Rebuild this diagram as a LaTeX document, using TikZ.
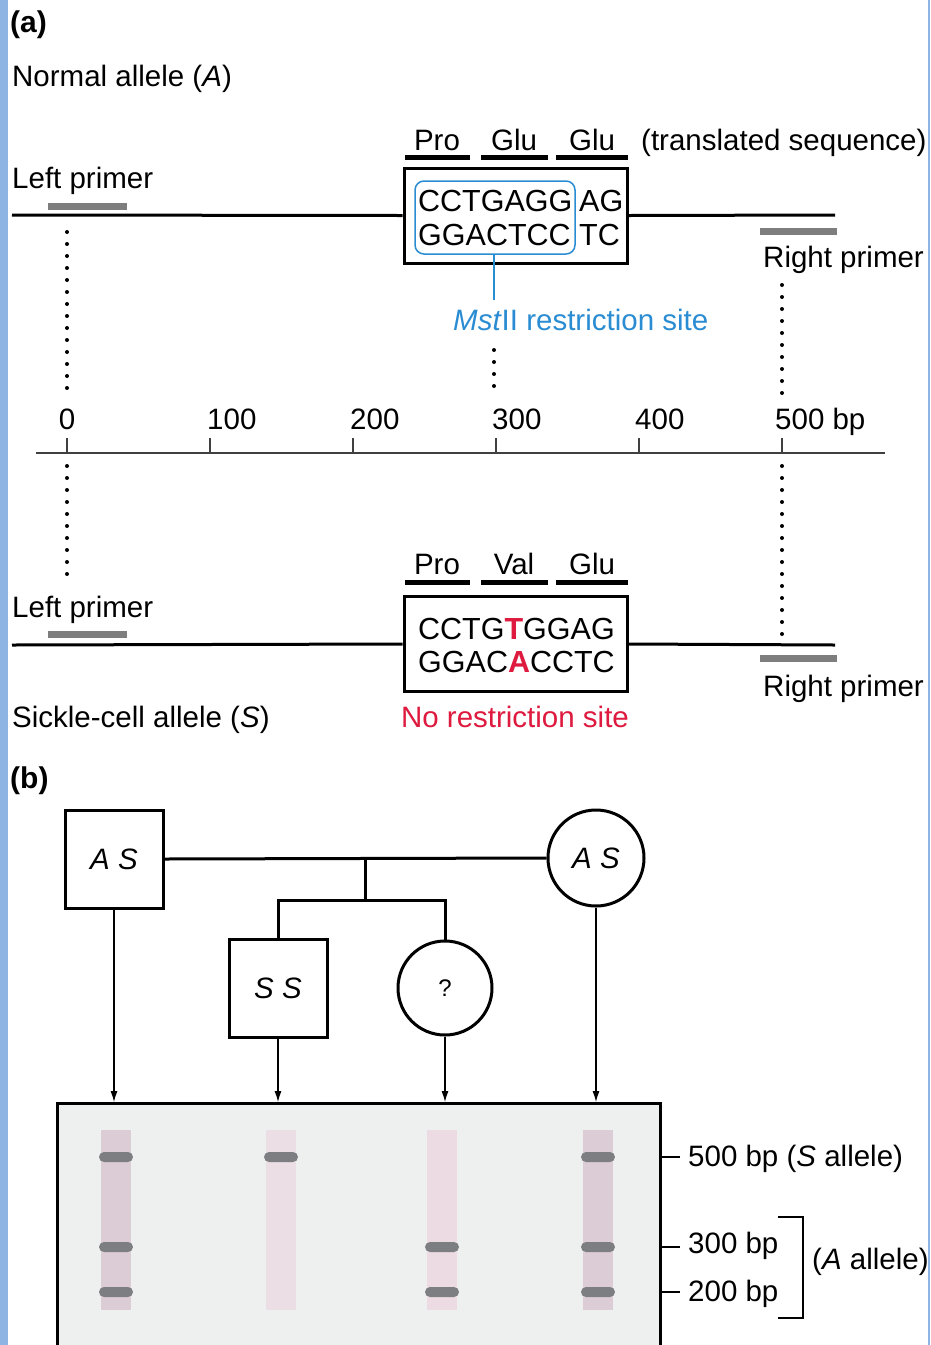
\documentclass[tikz,border=0pt]{standalone}
\usepackage{fontspec}
\setmainfont{Liberation Sans}
\usetikzlibrary{arrows.meta}
\definecolor{stripblue}{HTML}{8EB4E3}
\definecolor{siteblue}{HTML}{2A8CD2}
\definecolor{mutred}{HTML}{DE1A3F}
\definecolor{gelbg}{HTML}{EEEFEF}
\definecolor{laneA}{HTML}{DCCCD5}
\definecolor{laneB}{HTML}{EBDEE4}
\definecolor{laneC}{HTML}{EDDBE4}
\definecolor{bandgray}{HTML}{7D7E81}
\definecolor{primergray}{HTML}{7E7E7E}
\begin{document}
\begin{tikzpicture}[x=1pt,y=-1pt,
  every node/.style={font=\fontsize{29.5}{34}\selectfont, inner sep=0pt},
  lbl/.style={anchor=base west},
  clbl/.style={anchor=base},
  seq/.style={anchor=base west, font=\fontsize{30.5}{34}\selectfont},
  dna/.style={line width=3pt},
  seqbox/.style={draw, line width=3pt, minimum width=223pt, minimum height=95pt},
  aabar/.style={line width=5pt},
  primer/.style={line width=7pt, draw=primergray},
  dots/.style={line width=4pt, line cap=round, dash pattern=on 0pt off 12pt},
  axis/.style={line width=1.5pt, draw=black!75},
  pedbox/.style={draw, line width=3pt, minimum size=98pt},
  pedcirc/.style={draw, circle, line width=3pt, minimum size=96pt},
  pedline/.style={line width=3pt},
  arr/.style={line width=1.1pt, -{Latex[length=11pt,width=7pt]}},
  band/.style={fill=bandgray, rounded corners=5pt},
  panel/.style={lbl, font=\bfseries\fontsize{30}{34}\selectfont},
]
\fill[white] (0,0) rectangle (930,1345);
\useasboundingbox (0,0) rectangle (930,1345);
\fill[stripblue] (0,0) rectangle (8,1345);
\fill[stripblue] (928,0) rectangle (930,1345);

% ---------- (a) normal allele ----------
\node[panel] (la) at (10,32) {(a)};
\node[lbl] (normal) at (12,86) {Normal allele (\textit{A})};
\node[lbl] (lp1) at (12,188) {Left primer};
\draw[primer] (48,206) -- (127,206);
\node[seqbox] (boxA) at (515.5,215.5) {};
\coordinate (dnaAl) at (12,215);
\coordinate (dnaAr) at (835,215);
\draw[dna] (dnaAl) -- (boxA.west);
\draw[dna] (boxA.east) -- (dnaAr);
\draw[primer] (760,231) -- (837,231);
\node[lbl] (rp1) at (763,267) {Right primer};
\node[clbl] (aa1) at (437,150) {Pro};
\node[clbl] (aa2) at (514,150) {Glu};
\node[clbl] (aa3) at (592,150) {Glu};
\draw[aabar] (405,157) -- (470,157);
\draw[aabar] (481,157) -- (548,157);
\draw[aabar] (556,157) -- (628,157);
\node[lbl] (trans) at (641,150) {(translated sequence)};
\node[seq] (sA1) at (418,211) {CCTGAGG};
\node[seq] (sA2) at (579,211) {AG};
\node[seq] (sA3) at (418,245) {GGACTCC};
\node[seq] (sA4) at (579,245) {TC};
\node[draw=siteblue, line width=1.5pt, rounded corners=9pt, minimum width=160pt, minimum height=73pt] (site) at (495,217.5) {};
\node[lbl, text=siteblue] (mst) at (453,330) {\textit{Mst}II restriction site};
\coordinate (siteend) at (494,300);
\draw[siteblue, line width=1.5pt] (site.south -| siteend) -- (siteend);
\draw[dots] (494,350) -- (494,386);
\draw[dots] (67,232) -- (67,393);
\draw[dots] (782,285) -- (782,393);

% ---------- scale ----------
\coordinate (axL) at (36,453);
\coordinate (axR) at (885,453);
\draw[axis] (axL) -- (axR);
\foreach \x in {67,210,353,496,639,782} \draw[axis] (\x,438) -- (\x,453);
\node[clbl] (t0) at (67,429) {0};
\node[lbl] (t1) at (207,429) {100};
\node[lbl] (t2) at (350,429) {200};
\node[lbl] (t3) at (492,429) {300};
\node[lbl] (t4) at (635,429) {400};
\node[lbl] (t5) at (775,429) {500 bp};
\draw[dots] (67,466) -- (67,574);
\draw[dots] (782,466) -- (782,638);

% ---------- sickle allele ----------
\node[clbl] (bb1) at (437,574) {Pro};
\node[clbl] (bb2) at (514,574) {Val};
\node[clbl] (bb3) at (592,574) {Glu};
\draw[aabar] (405,582) -- (470,582);
\draw[aabar] (481,582) -- (548,582);
\draw[aabar] (556,582) -- (628,582);
\node[lbl] (lp2) at (12,617) {Left primer};
\draw[primer] (48,634) -- (127,634);
\node[seqbox] (boxS) at (515.5,644) {};
\coordinate (dnaSl) at (12,645);
\coordinate (dnaSr) at (835,645);
\draw[dna] (dnaSl) -- (boxS.west);
\draw[dna] (boxS.east) -- (dnaSr);
\draw[primer] (760,658) -- (837,658);
\node[lbl] (rp2) at (763,696) {Right primer};
\node[seq] (sS1) at (418,639) {CCTG\textcolor{mutred}{\bfseries T}GGAG};
\node[seq] (sS2) at (418,672) {GGAC\textcolor{mutred}{\bfseries A}CCTC};
\node[lbl] (sickle) at (12,727) {Sickle-cell allele (\textit{S})};
\node[clbl, text=mutred] (norest) at (515,727) {No restriction site};

% ---------- (b) pedigree ----------
\node[panel] (lb) at (10,788) {(b)};
\node[pedbox] (father) at (114,859) {\textit{A S}};
\node[pedcirc] (mother) at (596,858) {\textit{A S}};
\node[pedbox] (son) at (278,988) {\textit{S S}};
\node[pedcirc, minimum size=94pt] (daughter) at (445,988) {\fontsize{24}{28}\selectfont ?};
\draw[pedline] (father.east) -- (mother.west);
\coordinate (mate) at (365,860);
\coordinate (sibs) at (365,900);
\draw[pedline] (mate) -- (sibs);
\draw[pedline] (son.north) |- (sibs) -| (daughter.north);

% ---------- gel ----------
\node[draw, fill=gelbg, line width=3pt, minimum width=603pt, minimum height=260pt, anchor=north west] (gel) at (56,1102) {};
\fill[laneA] (101,1130) rectangle (131,1310);
\fill[laneB] (266,1130) rectangle (296,1310);
\fill[laneC] (427,1130) rectangle (457,1310);
\fill[laneA] (583,1130) rectangle (613,1310);
\foreach \x/\y in {116/1157,116/1247,116/1292,281/1157,442/1247,442/1292,598/1157,598/1247,598/1292}
  \fill[band] (\x-17,\y-5) rectangle (\x+17,\y+5);
\draw[arr] (father.south) -- (father.south |- gel.north);
\draw[arr] (son.south) -- (son.south |- gel.north);
\draw[arr] (daughter.south) -- (daughter.south |- gel.north);
\draw[arr] (mother.south) -- (mother.south |- gel.north);
\foreach \y in {1157,1247,1292} \draw[line width=1.3pt] (659,\y) -- (680,\y);
\node[lbl] (m500) at (688,1166) {500 bp (\textit{S} allele)};
\node[lbl] (m300) at (688,1253) {300 bp};
\node[lbl] (m200) at (688,1301) {200 bp};
\draw[line width=1.3pt] (778,1217) -- (803,1217) -- (803,1318) -- (778,1318);
\node[lbl] (aall) at (812,1269) {(\textit{A} allele)};
\end{tikzpicture}
\end{document}
